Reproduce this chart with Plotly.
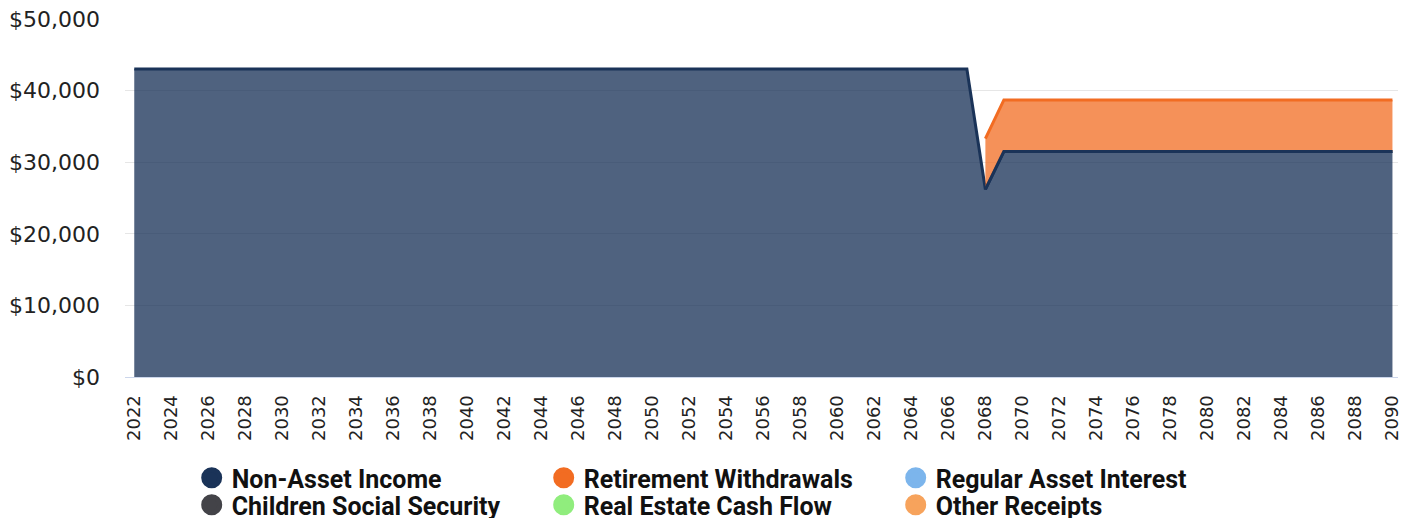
import plotly.graph_objects as go

years = list(range(2022, 2091))
non_asset_income = [43000] * (2067 - 2022 + 1) + [26200] + [31500] * (2090 - 2069 + 1)
retire_years = list(range(2068, 2091))
retirement_withdrawals = [7100] + [7200] * (2090 - 2069 + 1)

legend_row1 = ["Non-Asset Income", "Retirement Withdrawals", "Regular Asset Interest"]
legend_row1_colors = ["#1a3358", "#f26c22", "#7cb5ec"]
legend_row2 = ["Children Social Security", "Real Estate Cash Flow", "Other Receipts"]
legend_row2_colors = ["#434348", "#90ed7d", "#f7a35c"]

y_ticks = [0, 10000, 20000, 30000, 40000, 50000]
y_tick_text = ["$0", "$10,000", "$20,000", "$30,000", "$40,000", "$50,000"]
x_ticks = list(range(2022, 2091, 2))

fig = go.Figure()

fig.add_trace(go.Scatter(
    x=years, y=non_asset_income, mode="lines", fill="tozeroy",
    fillcolor="rgba(26,51,88,0.77)", line=dict(color="#1a3358", width=3),
    showlegend=False, name="Non-Asset Income"))

base = [non_asset_income[years.index(y)] for y in retire_years]
top = [b + r for b, r in zip(base, retirement_withdrawals)]
fig.add_trace(go.Scatter(
    x=retire_years, y=base, mode="lines", line=dict(width=0, color="rgba(0,0,0,0)"),
    showlegend=False, hoverinfo="skip"))
fig.add_trace(go.Scatter(
    x=retire_years, y=top, mode="lines", fill="tonexty",
    fillcolor="rgba(242,108,34,0.75)", line=dict(color="#f26c22", width=3),
    showlegend=False, name="Retirement Withdrawals"))
fig.add_trace(go.Scatter(
    x=retire_years, y=base, mode="lines", line=dict(color="#1a3358", width=3),
    showlegend=False, hoverinfo="skip"))

for names, colors, lg in [(legend_row1, legend_row1_colors, "legend"),
                          (legend_row2, legend_row2_colors, "legend2")]:
    for n, c in zip(names, colors):
        fig.add_trace(go.Scatter(
            x=[None], y=[None], mode="markers", name=n, legend=lg,
            marker=dict(symbol="circle", size=16, color=c, line=dict(color=c, width=5))))

legend_common = dict(orientation="h", x=0.0524, xanchor="left", yref="container",
                     yanchor="middle", traceorder="normal",
                     font=dict(family="Roboto", size=25, color="#111111", weight=700),
                     entrywidth=307, entrywidthmode="pixels", itemclick=False,
                     bgcolor="rgba(0,0,0,0)")

fig.update_layout(
    width=1403, height=518,
    margin=dict(l=125, r=5, t=19, b=141, autoexpand=False),
    paper_bgcolor="white", plot_bgcolor="white",
    legend=dict(y=1 - 478 / 518, **legend_common),
    legend2=dict(y=1 - 505 / 518, **legend_common),
    showlegend=True,
    font=dict(family="Roboto"),
)
fig.update_xaxes(
    range=[2021.5, 2090.3], tickmode="array", tickvals=x_ticks,
    ticktext=[str(y) for y in x_ticks], tickangle=-90,
    tickfont=dict(family="DejaVu Sans", size=18, color="#222222"),
    showgrid=False, zeroline=False, showline=True, linecolor="#ccd6eb", linewidth=1,
    ticks="", ticklabelstandoff=10, ticklabeloverflow="allow", automargin=False)
fig.update_yaxes(
    range=[0, 50000], tickmode="array", tickvals=y_ticks, ticktext=y_tick_text,
    tickfont=dict(family="DejaVu Sans", size=22, color="#222222"),
    showgrid=True, gridcolor="#e6e6e6", gridwidth=1, zeroline=False,
    ticks="", ticklabelstandoff=24, automargin=False)

fig.write_html("out.html")
